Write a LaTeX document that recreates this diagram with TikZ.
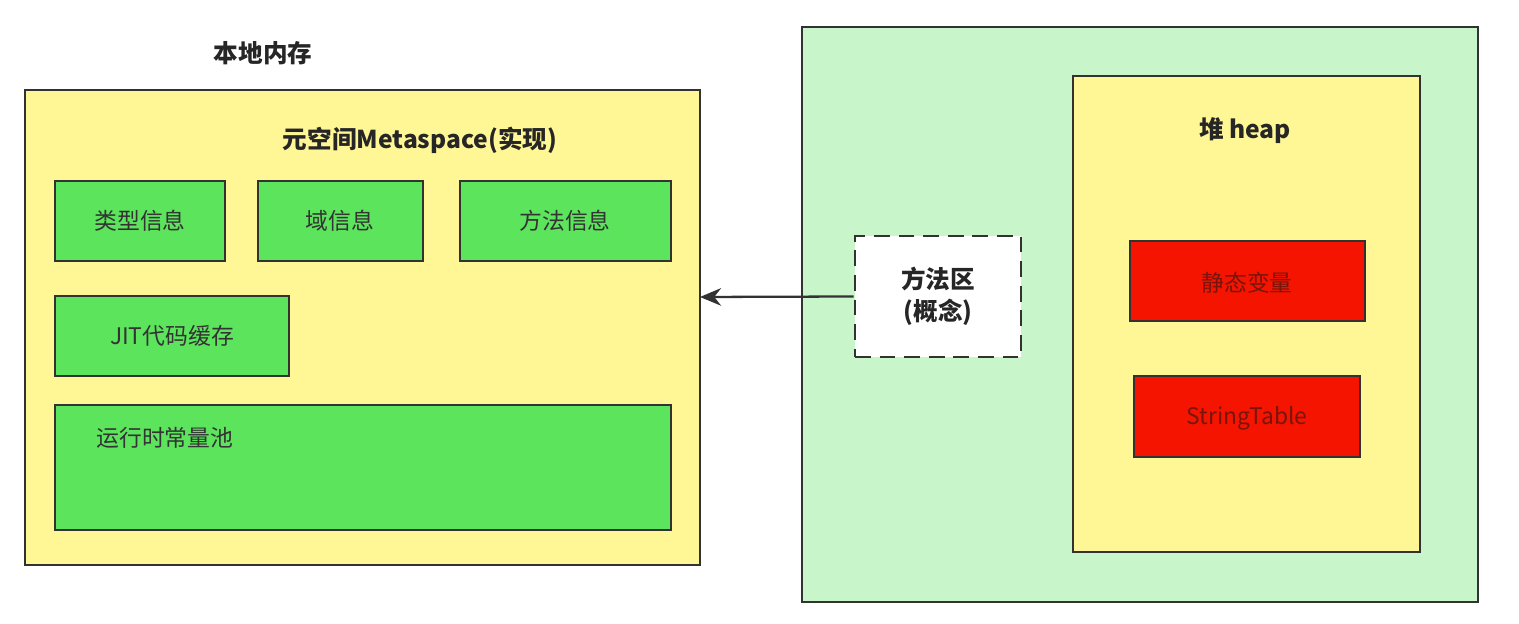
\documentclass[tikz,border=0pt]{standalone}
\usepackage{fontspec}
\setmainfont{Noto Sans CJK SC}
\usetikzlibrary{arrows.meta}
\definecolor{ybg}{RGB}{255,246,150}
\definecolor{gbg}{RGB}{200,245,202}
\definecolor{gbox}{RGB}{92,228,92}
\definecolor{rbox}{RGB}{245,20,0}
\definecolor{rtxt}{RGB}{120,20,10}
\definecolor{edge}{RGB}{50,50,50}
\tikzset{
  panel/.style={draw=edge,line width=1.3pt},
  gb/.style={draw=edge,line width=1.3pt,fill=gbox},
  rb/.style={draw=edge,line width=1.3pt,fill=rbox},
  lbl/.style={font=\fontsize{13}{15}\selectfont,text=black!80},
  ttl/.style={font=\bfseries\fontsize{14}{17}\selectfont,text=black!85},
}
\begin{document}
\begin{tikzpicture}[x=0.02cm,y=-0.02cm]
\useasboundingbox[fill=white] (0,0) rectangle (1519,624);
\node[ttl] (bd) at (263,53) {本地内存};
\draw[panel,fill=ybg] (25,90) rectangle (700,565);
\coordinate (meta) at (700,297);
\node[ttl] (ms) at (420,140) {元空间Metaspace(实现)};
\draw[gb] (55,181) rectangle (225,261); \node[lbl] (a) at (140,221) {类型信息};
\draw[gb] (258,181) rectangle (423,261); \node[lbl] (b) at (340,221) {域信息};
\draw[gb] (460,181) rectangle (671,261); \node[lbl] (c) at (565,221) {方法信息};
\draw[gb] (55,296) rectangle (289,376); \node[lbl] (d) at (172,336) {JIT代码缓存};
\draw[gb] (55,405) rectangle (671,530); \node[lbl] (e) at (165,438) {运行时常量池};
\draw[panel,fill=gbg] (802,27) rectangle (1478,602);
\draw[panel,fill=ybg] (1073,76) rectangle (1420,552);
\node[ttl] (h) at (1245,131) {堆 heap};
\draw[rb] (1130,241) rectangle (1365,321); \node[lbl,text=rtxt] (s) at (1247,283) {静态变量};
\draw[rb] (1134,376) rectangle (1360,457); \node[lbl,text=rtxt] (t) at (1247,418) {StringTable};
\node[draw=edge,line width=1.5pt,dash pattern=on 9pt off 5pt,fill=white,minimum width=3.32cm,minimum height=2.42cm,align=center,font=\bfseries\fontsize{14}{18}\selectfont,text=black!85] (m) at (938,296.5) {方法区\\(概念)};
\draw[edge,line width=1.3pt,-{Stealth[length=12pt,width=10pt]}] (m.west) -- (meta);
\end{tikzpicture}
\end{document}
